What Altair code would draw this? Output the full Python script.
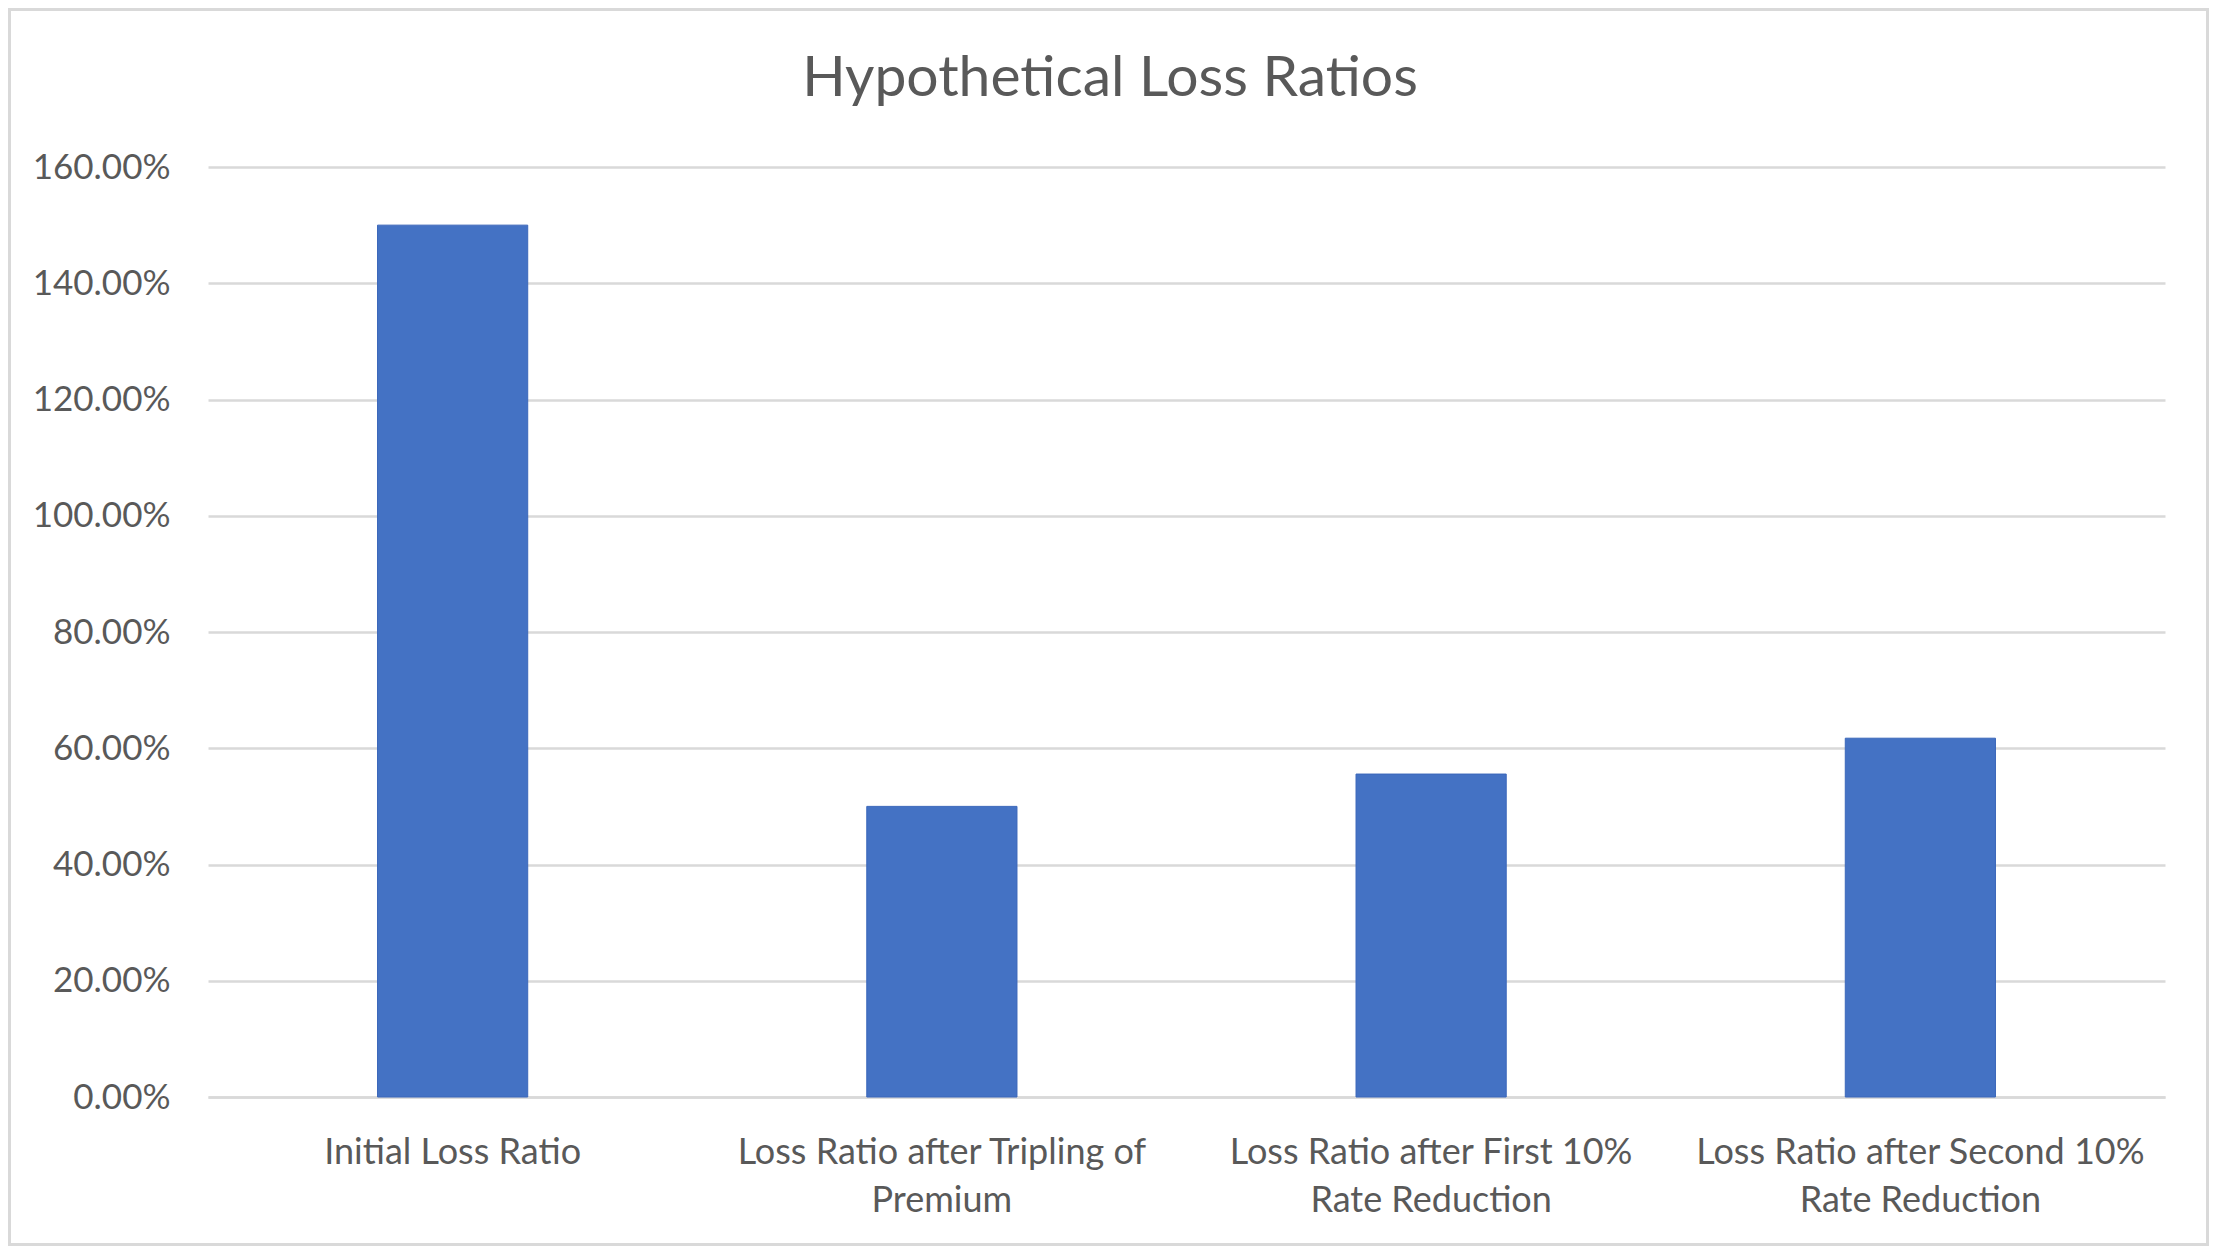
import altair as alt
import pandas as pd

# ---- data ----
categories = [
    "Initial Loss Ratio",
    "Loss Ratio after Tripling of\nPremium",
    "Loss Ratio after First 10%\nRate Reduction",
    "Loss Ratio after Second 10%\nRate Reduction",
]
loss_ratios = [1.50, 0.50, 0.5556, 0.6173]
y_ticks = [0.0, 0.2, 0.4, 0.6, 0.8, 1.0, 1.2, 1.4, 1.6]
chart_title = "Hypothetical Loss Ratios"

df = pd.DataFrame({"category": categories, "ratio": loss_ratios})

W, H = 1957, 930
PL, PT, PR, PB = 200, 159, 44, 149
TEXT = "#595959"
GRID = "#D9D9D9"
FONT = "Lato"

frame = alt.Chart(pd.DataFrame({"f": [0]})).mark_rect(
    fillOpacity=0, stroke=GRID, strokeWidth=3
).encode(
    x=alt.value(-PL + 1.5),
    x2=alt.value(W + PR - 1.5),
    y=alt.value(-PT + 1.5),
    y2=alt.value(H + PB - 1.5),
)

title = alt.Chart(pd.DataFrame({"t": [chart_title]})).mark_text(
    font=FONT, fontSize=57, color=TEXT, align="center", baseline="alphabetic"
).encode(
    text="t:N",
    x=alt.value(902),
    y=alt.value(-71),
)

bars = alt.Chart(df).mark_bar(color="#4472C4", stroke="#3B67BA", strokeWidth=1).encode(
    x=alt.X(
        "category:N",
        sort=categories,
        scale=alt.Scale(paddingInner=0.693, paddingOuter=0.3465),
        axis=alt.Axis(
            title=None,
            labelAngle=0,
            labelExpr="split(datum.label, '\\n')",
            labelFont=FONT,
            labelFontSize=36,
            labelColor=TEXT,
            labelLineHeight=48,
            labelPadding=38,
            labelLimit=800,
            labelOverlap=False,
            labelBaseline="top",
            ticks=False,
            domain=True,
            domainColor=GRID,
            domainWidth=2.5,
            grid=False,
        ),
    ),
    y=alt.Y(
        "ratio:Q",
        scale=alt.Scale(domain=[0, 1.6], nice=False),
        axis=alt.Axis(
            title=None,
            format=".2%",
            values=y_ticks,
            labelFont=FONT,
            labelFontSize=35,
            labelColor=TEXT,
            labelPadding=38,
            ticks=False,
            domain=False,
            grid=True,
            gridColor=GRID,
            gridWidth=2.5,
        ),
    ),
    tooltip=["category:N", alt.Tooltip("ratio:Q", format=".2%")],
)

chart = alt.layer(frame, bars, title).properties(
    width=W,
    height=H,
    padding={"left": PL, "top": PT, "right": PR, "bottom": PB},
    autosize=alt.AutoSizeParams(type="none"),
).configure(
    background="white",
    view=alt.ViewConfig(strokeWidth=0, stroke="transparent"),
)

chart.save("out.html", embed_options={"renderer": "svg", "actions": False})
